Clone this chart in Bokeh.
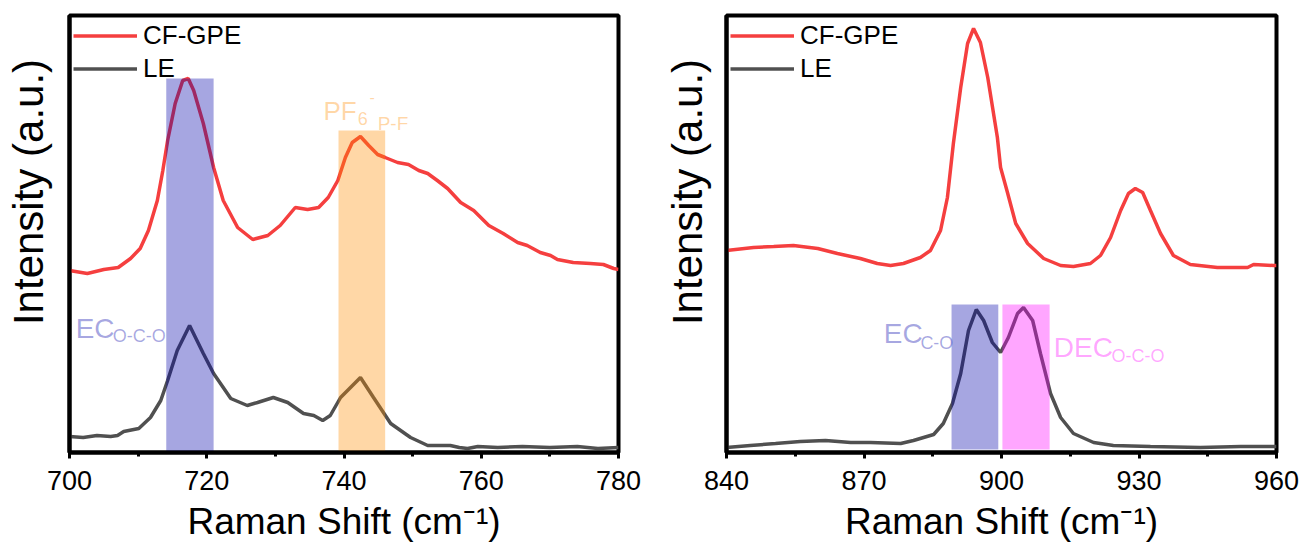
from bokeh.plotting import figure
from bokeh.layouts import row
from bokeh.models import Range1d, SingleIntervalTicker, FixedTicker
from bokeh.embed import file_html
from bokeh.resources import INLINE
from bokeh.core.properties import value

FONT = "Liberation Sans"

# ---------------- Left panel data (700-780 cm-1) ----------------
left_cf_x = [700, 702.6, 705.0, 707.1, 708.9, 710.3, 711.5, 712.8, 713.6, 714.3, 715.4, 716.5, 717.3,
             718.1, 719.5, 721.0, 722.4, 724.5, 726.7, 728.9, 730.7, 732.9, 734.7, 736.3, 737.7, 739.1,
             740.2, 741.2, 742.4, 743.6, 744.9, 746.0, 747.8, 749.4, 750.9, 752.2, 753.6, 755.1, 757.0,
             758.9, 761.1, 763.2, 765.3, 766.7, 768.6, 770.1, 771.1, 773.4, 775.9, 777.8, 779.3, 780]
left_cf_y = [182, 179, 183, 185, 194, 204, 222, 252, 282, 312, 349, 372, 374,
             362, 329, 285, 252, 225, 213, 217, 227, 245, 243, 245, 255, 272,
             295, 310, 316, 307, 298, 295, 290, 288, 282, 279, 272, 264, 250,
             242, 227, 219, 210, 207, 200, 197, 193, 190, 189, 188, 184, 183]

left_le_x = [700, 702.0, 704.0, 706.0, 707.0, 707.9, 710.1, 711.8, 713.3, 714.3, 715.7, 717.5, 719.5,
             721.0, 723.5, 725.9, 727.4, 729.7, 731.8, 734.1, 735.6, 736.9, 738.0, 739.5, 742.4,
             744.3, 746.8, 749.7, 752.2, 755.5, 756.8, 758.0, 759.5, 762.4, 766.0, 770.0, 774.0, 777.0, 780]
left_le_y = [16, 15, 17, 16, 17, 21, 24, 35, 52, 72, 102, 127, 99,
             79, 54, 47, 50, 55, 50, 39, 37, 32, 37, 55, 75,
             55, 29, 15, 7, 7, 5, 4, 6, 5, 6, 5, 6, 4, 5]

left_band_left = [714.1, 739.2]
left_band_right = [721.0, 746.0]
left_band_top = [374, 322]
left_band_colors = ["#0000AA", "#FF8C00"]

# ---------------- Right panel data (840-960 cm-1) ----------------
right_cf_x = [840, 845.9, 850.3, 854.6, 859.9, 864.2, 869.2, 872.9, 875.8, 878.6, 882.3, 884.5, 886.7,
              888.2, 889.5, 891.1, 892.6, 893.9, 895.4, 897.0, 899.1, 899.8, 901.3, 903.1, 905.7,
              909.2, 912.9, 915.7, 919.4, 921.6, 923.8, 926.0, 927.7, 929.2, 930.8, 932.5, 934.7,
              937.5, 941.2, 947.1, 953.7, 955.0, 959.4, 960]
right_cf_y = [202, 205, 206, 207, 204, 199, 194, 189, 187, 189, 195, 202, 222,
              255, 309, 365, 409, 424, 410, 375, 315, 285, 260, 229, 209,
              194, 187, 186, 189, 197, 215, 242, 259, 264, 260, 242, 219,
              197, 188, 185, 185, 188, 187, 187]

right_le_x = [840, 845.2, 850.7, 856.1, 861.6, 867.1, 871.4, 878.0, 880.8, 885.2, 887.3, 889.3, 891.1,
              892.8, 894.5, 896.1, 898.0, 899.8, 901.5, 903.5, 904.8, 906.8, 908.5, 910.7, 912.9,
              915.7, 920.1, 924.4, 932.5, 943.4, 952.2, 960]
right_le_y = [5, 7, 9, 11, 12, 10, 10, 9, 12, 18, 29, 49, 79,
              122, 143, 132, 110, 100, 115, 139, 145, 132, 99, 59, 35,
              19, 10, 7, 6, 5, 6, 6]

right_band_left = [889.1, 900.2]
right_band_right = [899.3, 910.5]
right_band_top = [148, 148]
right_band_colors = ["#0000AA", "#FF00FF"]

series_names = ["CF-GPE", "LE"]
series_colors = ["#F53F3F", "#505050"]

BAND_ALPHA = 0.35


def make_panel(width, left_border, right_border, xr, interval, cf_x, cf_y, le_x, le_y, ystand):
    p = figure(width=width, height=547, output_backend="svg", toolbar_location=None,
               x_range=Range1d(*xr), y_range=Range1d(0, 437),
               min_border_left=left_border, min_border_right=right_border,
               min_border_top=15, min_border_bottom=95)
    p.frame_width = width - left_border - right_border
    p.frame_height = 437
    p.xgrid.visible = False
    p.ygrid.visible = False
    p.outline_line_color = "black"
    p.outline_line_width = 4
    p.outline_line_alpha = 1
    p.background_fill_color = "white"
    p.border_fill_color = "white"

    p.xaxis.ticker = SingleIntervalTicker(interval=interval, num_minor_ticks=2)
    p.xaxis.axis_line_width = 4
    p.xaxis.major_tick_line_width = 3
    p.xaxis.minor_tick_line_width = 3
    p.xaxis.major_tick_out = 6
    p.xaxis.major_tick_in = 0
    p.xaxis.minor_tick_out = 4
    p.xaxis.minor_tick_in = 0
    p.xaxis.major_label_text_font = FONT
    p.xaxis.major_label_text_font_size = "27px"
    p.xaxis.major_label_text_color = "black"
    p.xaxis.major_label_standoff = 12
    p.xaxis.axis_label = "Raman Shift (cm\u207b\u00b9)"
    p.xaxis.axis_label_text_font = FONT
    p.xaxis.axis_label_text_font_size = "37px"
    p.xaxis.axis_label_text_font_style = "normal"
    p.xaxis.axis_label_text_color = "black"
    p.xaxis.axis_label_standoff = 8

    p.yaxis.ticker = FixedTicker(ticks=[])
    p.yaxis.axis_line_width = 4
    p.yaxis.major_tick_out = 0
    p.yaxis.minor_tick_out = 0
    # leading em spaces move the visible title towards the top, as in the original
    p.yaxis.axis_label = "\u2003\u2003Intensity (a.u.)"
    p.yaxis.axis_label_text_font = FONT
    p.yaxis.axis_label_text_font_size = "42px"
    p.yaxis.axis_label_text_font_style = "normal"
    p.yaxis.axis_label_text_color = "black"
    p.yaxis.axis_label_standoff = ystand

    p.line(cf_x, cf_y, line_color=series_colors[0], line_width=3.5, legend_label=series_names[0])
    p.line(le_x, le_y, line_color=series_colors[1], line_width=3.5, legend_label=series_names[1])

    lg = p.legend[0]
    lg.location = "top_left"
    lg.margin = 4
    lg.padding = 0
    lg.spacing = 0
    lg.glyph_width = 64
    lg.glyph_height = 33
    lg.label_height = 33
    lg.label_standoff = 6
    lg.label_text_font = FONT
    lg.label_text_font_size = "26px"
    lg.label_text_color = "black"
    lg.border_line_color = None
    lg.background_fill_alpha = 0
    lg.inactive_fill_alpha = 0
    return p


def add_text(p, x, y, txt, size, color):
    p.text(x=[x], y=[y], text=[txt], text_font=value(FONT), text_font_size=value(size),
           text_color=color, text_alpha=BAND_ALPHA, text_baseline="alphabetic", text_align="left")


# Left panel
p1 = make_panel(651, 69, 33, (700, 780), 20, left_cf_x, left_cf_y, left_le_x, left_le_y, 18)
add_text(p1, 700.9, 124, "EC", "28px", left_band_colors[0])
add_text(p1, 706.3, 117, "O-C-O", "18px", left_band_colors[0])
add_text(p1, 737.0, 342, "PF", "26px", left_band_colors[1])
add_text(p1, 742.0, 334, "6", "18px", left_band_colors[1])
add_text(p1, 743.7, 356, "-", "16px", left_band_colors[1])
add_text(p1, 744.9, 329, "P-F", "19px", left_band_colors[1])
p1.quad(left=left_band_left, right=left_band_right, bottom=[0, 0], top=left_band_top,
        fill_color=left_band_colors, fill_alpha=BAND_ALPHA, line_color=None)

# Right panel
p2 = make_panel(651, 75, 26, (840, 960), 30, right_cf_x, right_cf_y, right_le_x, right_le_y, 16)
add_text(p2, 874.3, 119, "EC", "28px", right_band_colors[0])
add_text(p2, 882.3, 110, "C-O", "18px", right_band_colors[0])
add_text(p2, 911.4, 105, "DEC", "28px", right_band_colors[1])
add_text(p2, 924.0, 97, "O-C-O", "18px", right_band_colors[1])
p2.quad(left=right_band_left, right=right_band_right, bottom=[3, 3], top=right_band_top,
        fill_color=right_band_colors, fill_alpha=BAND_ALPHA, line_color=None)

layout = row(p1, p2)
open("out.html", "w").write(file_html(layout, INLINE))
